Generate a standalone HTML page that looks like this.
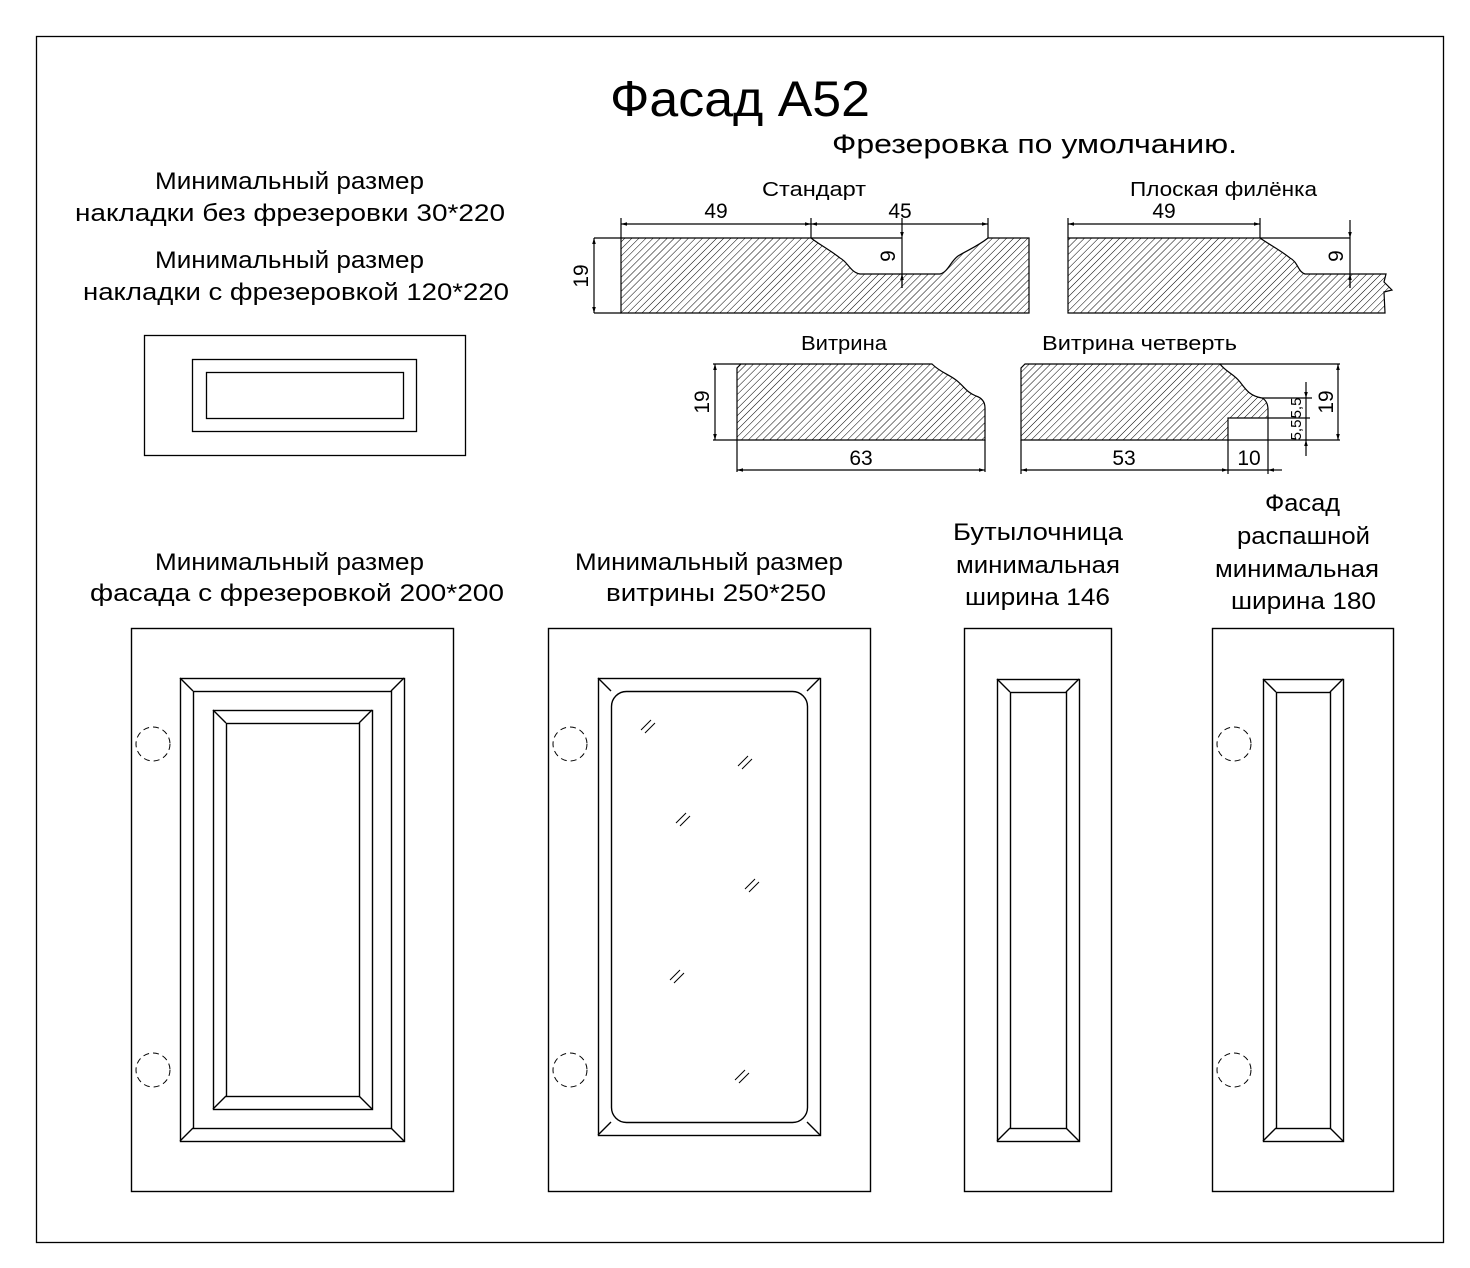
<!DOCTYPE html>
<html><head><meta charset="utf-8"><style>
html,body{margin:0;padding:0;background:#fff}
svg{display:block}
text{font-family:"Liberation Sans","DejaVu Sans",sans-serif;fill:#000}
</style></head><body>
<svg width="1470" height="1268" viewBox="0 0 1470 1268" xmlns="http://www.w3.org/2000/svg">
<defs>
<pattern id="h" width="5" height="5" patternUnits="userSpaceOnUse" patternTransform="rotate(45)">
<line x1="0" y1="0" x2="0" y2="5" stroke="#000" stroke-width="1"/>
</pattern>
<marker id="a" viewBox="0 0 10 10" refX="10" refY="5" markerWidth="8" markerHeight="6" orient="auto-start-reverse" markerUnits="userSpaceOnUse"><path d="M0,2 L10,5 L0,8z" fill="#000"/></marker>
</defs>
<rect x="36.5" y="36.5" width="1407" height="1206" fill="none" stroke="#000" stroke-width="1.3"/>

<g lengthAdjust="spacingAndGlyphs">
<text x="610" y="116" font-size="50" textLength="260" lengthAdjust="spacingAndGlyphs">Фасад A52</text>
<text x="832" y="153" font-size="27" textLength="405" lengthAdjust="spacingAndGlyphs">Фрезеровка по умолчанию.</text>
</g>

<g font-size="24">
<text x="155" y="189" textLength="269" lengthAdjust="spacingAndGlyphs">Минимальный размер</text>
<text x="75" y="221" textLength="430" lengthAdjust="spacingAndGlyphs">накладки без фрезеровки 30*220</text>
<text x="155" y="268" textLength="269" lengthAdjust="spacingAndGlyphs">Минимальный размер</text>
<text x="83" y="300" textLength="426" lengthAdjust="spacingAndGlyphs">накладки с фрезеровкой 120*220</text>
</g>
<g fill="none" stroke="#000" stroke-width="1.3">
<rect x="144.5" y="335.5" width="321" height="120"/>
<rect x="192.5" y="359.5" width="224" height="72"/>
<rect x="206.5" y="372.5" width="197" height="46"/>
</g>

<!-- profiles -->
<g font-size="20">
<text x="762" y="196" textLength="104" lengthAdjust="spacingAndGlyphs">Стандарт</text>
<text x="1130" y="196" textLength="187" lengthAdjust="spacingAndGlyphs">Плоская филёнка</text>
<text x="801" y="350" textLength="86" lengthAdjust="spacingAndGlyphs">Витрина</text>
<text x="1042" y="350" textLength="195" lengthAdjust="spacingAndGlyphs">Витрина четверть</text>
</g>
<g stroke="#000" stroke-width="1.2">
<!-- standard -->
<path d="M621,238 L811,238 C820,245 830,250 840,258 C848,262 850,272 860,274 L940,274 C948,272 950,262 958,256 C968,250 978,246 988,238 L1029,238 L1029,313 L621,313 Z" fill="url(#h)"/>
<line x1="811" y1="238" x2="902" y2="238"/>
<line x1="621" y1="238" x2="621" y2="218" /><line x1="811" y1="238" x2="811" y2="218"/><line x1="988" y1="238" x2="988" y2="218"/>
<line x1="621" y1="224" x2="811" y2="224" marker-start="url(#a)" marker-end="url(#a)"/>
<line x1="811" y1="224" x2="988" y2="224" marker-start="url(#a)" marker-end="url(#a)"/>
<line x1="902" y1="218" x2="902" y2="238" marker-end="url(#a)"/>
<line x1="902" y1="238" x2="902" y2="288" />
<line x1="902" y1="288" x2="902" y2="274" marker-end="url(#a)"/>
<line x1="594" y1="238" x2="621" y2="238"/><line x1="594" y1="313" x2="621" y2="313"/>
<line x1="594" y1="238" x2="594" y2="313" marker-start="url(#a)" marker-end="url(#a)"/>
<!-- flat -->
<path d="M1068,238 L1260,238 C1270,245 1280,250 1290,258 C1298,262 1298,272 1305,274 L1386,274 L1384,282 L1392,290 L1384,292 L1385,313 L1068,313 Z" fill="url(#h)"/>
<line x1="1260" y1="238" x2="1350" y2="238"/>
<line x1="1068" y1="238" x2="1068" y2="218"/><line x1="1260" y1="238" x2="1260" y2="218"/>
<line x1="1068" y1="224" x2="1260" y2="224" marker-start="url(#a)" marker-end="url(#a)"/>
<line x1="1350" y1="220" x2="1350" y2="238" marker-end="url(#a)"/>
<line x1="1350" y1="238" x2="1350" y2="288"/>
<line x1="1350" y1="288" x2="1350" y2="274" marker-end="url(#a)"/>
<!-- vitrina -->
<path d="M741,364 L932,364 C940,372 948,374 956,380 C964,386 966,392 976,396 C982,398 985,402 985,408 L985,440 L737,440 L737,368 Z" fill="url(#h)"/>
<line x1="713" y1="364" x2="741" y2="364"/><line x1="713" y1="440" x2="737" y2="440"/>
<line x1="715" y1="364" x2="715" y2="440" marker-start="url(#a)" marker-end="url(#a)"/>
<line x1="737" y1="440" x2="737" y2="472"/><line x1="985" y1="440" x2="985" y2="472"/>
<line x1="737" y1="470" x2="985" y2="470" marker-start="url(#a)" marker-end="url(#a)"/>
<!-- vitrina quarter -->
<path d="M1025,364 L1220,364 C1226,372 1234,374 1240,382 C1246,390 1250,396 1262,398 C1266,400 1268,404 1268,410 L1268,418 L1228,418 L1228,440 L1021,440 L1021,368 Z" fill="url(#h)"/>
<line x1="1220" y1="364" x2="1340" y2="364"/>
<line x1="1262" y1="398" x2="1312" y2="398"/>
<line x1="1268" y1="418" x2="1310" y2="418"/>
<line x1="1228" y1="440" x2="1340" y2="440"/>
<line x1="1268" y1="418" x2="1268" y2="474"/><line x1="1228" y1="440" x2="1228" y2="474"/><line x1="1021" y1="440" x2="1021" y2="474"/>
<line x1="1338" y1="364" x2="1338" y2="440" marker-start="url(#a)" marker-end="url(#a)"/>
<line x1="1306" y1="382" x2="1306" y2="398" marker-end="url(#a)"/>
<line x1="1306" y1="398" x2="1306" y2="440"/>
<line x1="1306" y1="456" x2="1306" y2="440" marker-end="url(#a)"/>
<line x1="1021" y1="470" x2="1228" y2="470" marker-start="url(#a)" marker-end="url(#a)"/>
<line x1="1228" y1="470" x2="1268" y2="470"/>
<line x1="1282" y1="470" x2="1268" y2="470" marker-end="url(#a)"/>
</g>
<g font-size="21" text-anchor="middle">
<text x="716" y="218">49</text><text x="900" y="218">45</text><text x="1164" y="218">49</text>
<text transform="translate(588,276) rotate(-90)">19</text>
<text transform="translate(895,256) rotate(-90)">9</text>
<text transform="translate(1343,256) rotate(-90)">9</text>
<text transform="translate(709,402) rotate(-90)">19</text>
<text x="861" y="465">63</text><text x="1124" y="465">53</text><text x="1249" y="465">10</text>
<text transform="translate(1333,402) rotate(-90)">19</text>
<text transform="translate(1301,408) rotate(-90)" font-size="15">5,5</text>
<text transform="translate(1301,430) rotate(-90)" font-size="15">5,5</text>
</g>

<!-- bottom labels -->
<g font-size="24">
<text x="155" y="570" textLength="269" lengthAdjust="spacingAndGlyphs">Минимальный размер</text>
<text x="90" y="601" textLength="414" lengthAdjust="spacingAndGlyphs">фасада с фрезеровкой  200*200</text>
<text x="575" y="570" textLength="268" lengthAdjust="spacingAndGlyphs">Минимальный размер</text>
<text x="606" y="601" textLength="220" lengthAdjust="spacingAndGlyphs">витрины 250*250</text>
<text x="953" y="540" textLength="170" lengthAdjust="spacingAndGlyphs">Бутылочница</text>
<text x="956" y="573" textLength="164" lengthAdjust="spacingAndGlyphs">минимальная</text>
<text x="965" y="605" textLength="145" lengthAdjust="spacingAndGlyphs">ширина 146</text>
<text x="1265" y="511" textLength="75" lengthAdjust="spacingAndGlyphs">Фасад</text>
<text x="1237" y="544" textLength="133" lengthAdjust="spacingAndGlyphs">распашной</text>
<text x="1215" y="577" textLength="164" lengthAdjust="spacingAndGlyphs">минимальная</text>
<text x="1231" y="609" textLength="145" lengthAdjust="spacingAndGlyphs">ширина 180</text>
</g>

<g fill="none" stroke="#000" stroke-width="1.4">
<rect x="131.5" y="628.5" width="322" height="563"/>
<rect x="180.5" y="678.5" width="224" height="463"/>
<rect x="193.5" y="691.5" width="198" height="437"/>
<path d="M180,678 L193,691 M404,678 L391,691 M180,1141 L193,1128 M404,1141 L391,1128"/>
<rect x="213.5" y="710.5" width="159" height="399"/>
<rect x="226.5" y="723.5" width="133" height="373"/>
<path d="M213,710 L226,723 M372,710 L359,723 M213,1109 L226,1096 M372,1109 L359,1096"/>
<circle cx="153" cy="744" r="17" stroke-dasharray="6,4" stroke-width="1"/>
<circle cx="153" cy="1070" r="17" stroke-dasharray="6,4" stroke-width="1"/>
<rect x="548.5" y="628.5" width="322" height="563"/>
<rect x="598.5" y="678.5" width="222" height="457"/>
<rect x="611.5" y="691.5" width="196" height="431" rx="15"/>
<path d="M598,678 L611,691 M820,678 L807,691 M598,1135 L611,1122 M820,1135 L807,1122"/>
<circle cx="570" cy="744" r="17" stroke-dasharray="6,4" stroke-width="1"/>
<circle cx="570" cy="1070" r="17" stroke-dasharray="6,4" stroke-width="1"/>
<g stroke-width="1">
<path d="M641,730 L651,720 M645,733 L655,723"/>
<path d="M738,766 L748,756 M742,769 L752,759"/>
<path d="M676,823 L686,813 M680,826 L690,816"/>
<path d="M745,889 L755,879 M749,892 L759,882"/>
<path d="M670,980 L680,970 M674,983 L684,973"/>
<path d="M735,1080 L745,1070 M739,1083 L749,1073"/>
</g>
<rect x="964.5" y="628.5" width="147" height="563"/>
<rect x="997.5" y="679.5" width="82" height="462"/>
<rect x="1010.5" y="692.5" width="56" height="436"/>
<path d="M997,679 L1010,692 M1079,679 L1066,692 M997,1141 L1010,1128 M1079,1141 L1066,1128"/>
<rect x="1212.5" y="628.5" width="181" height="563"/>
<rect x="1263.5" y="679.5" width="80" height="462"/>
<rect x="1276.5" y="692.5" width="54" height="436"/>
<path d="M1263,679 L1276,692 M1343,679 L1330,692 M1263,1141 L1276,1128 M1343,1141 L1330,1128"/>
<circle cx="1234" cy="744" r="17" stroke-dasharray="6,4" stroke-width="1"/>
<circle cx="1234" cy="1070" r="17" stroke-dasharray="6,4" stroke-width="1"/>
</g>
</svg>
</body></html>
